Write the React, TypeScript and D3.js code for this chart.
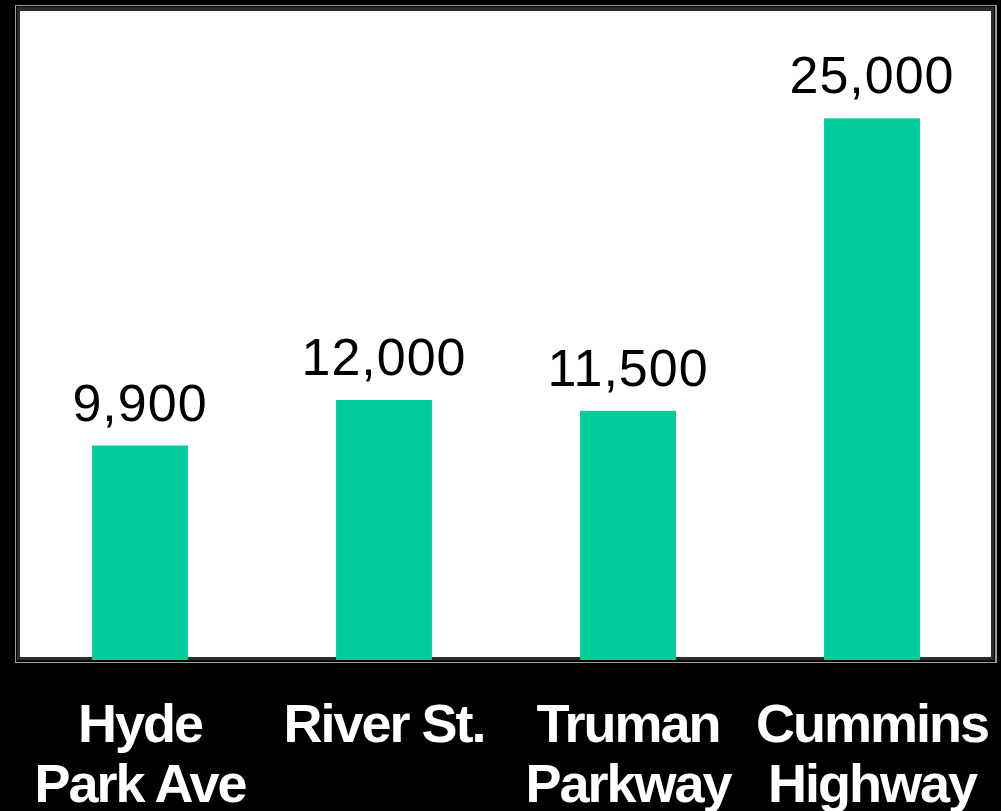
import React from "react";
import * as d3 from "d3";

const categories: string[][] = [
  ["Hyde", "Park Ave"],
  ["River St."],
  ["Truman", "Parkway"],
  ["Cummins", "Highway"],
];
const categoryKeys = ["Hyde Park Ave", "River St.", "Truman Parkway", "Cummins Highway"];
const values = [9900, 12000, 11500, 25000];
const yDomainMax = 30000;

const W = 1001;
const H = 811;

export default function App() {
  const x = d3
    .scaleBand<string>()
    .domain(categoryKeys)
    .range([18, 994])
    .paddingInner(0.607)
    .paddingOuter(0.3035);
  const y = d3.scaleLinear().domain([0, yDomainMax]).range([660, 10]);
  const fmt = d3.format(",");

  return (
    <svg
      width={W}
      height={H}
      style={{ position: "absolute", left: 0, top: 0, display: "block" }}
      fontFamily="'Liberation Sans', Arial, sans-serif"
    >
      <rect x={0} y={0} width={W} height={H} fill="#000" />
      {/* frame */}
      <rect x={15} y={5} width={982} height={658} fill="#9a9a9a" />
      <rect x={16} y={6} width={979} height={656} fill="#050505" />
      <rect x={17} y={7} width={977} height={653} fill="#2b2b2b" />
      <rect x={20} y={11} width={971} height={646} fill="#fff" />
      {/* bars */}
      {values.map((v, i) => {
        const k = categoryKeys[i];
        const bx = x(k)!;
        return (
          <rect
            key={k}
            x={bx}
            y={y(v)}
            width={x.bandwidth()}
            height={y(0) - y(v)}
            fill="#00CC99"
          />
        );
      })}
      {/* value labels */}
      {values.map((v, i) => {
        const k = categoryKeys[i];
        const cx = x(k)! + x.bandwidth() / 2;
        return (
          <text
            key={k}
            x={cx}
            y={y(v) - 25}
            textAnchor="middle"
            fontSize={52}
            letterSpacing={1}
            fill="#000"
          >
            {fmt(v)}
          </text>
        );
      })}
      {/* category labels */}
      {categories.map((lines, i) => {
        const k = categoryKeys[i];
        const cx = x(k)! + x.bandwidth() / 2;
        return (
          <text
            key={k}
            textAnchor="middle"
            fontSize={54}
            fontWeight="bold"
            letterSpacing={-2}
            fill="#fff"
          >
            {lines.map((line, j) => (
              <tspan key={j} x={cx} y={742 + j * 60}>
                {line}
              </tspan>
            ))}
          </text>
        );
      })}
    </svg>
  );
}
